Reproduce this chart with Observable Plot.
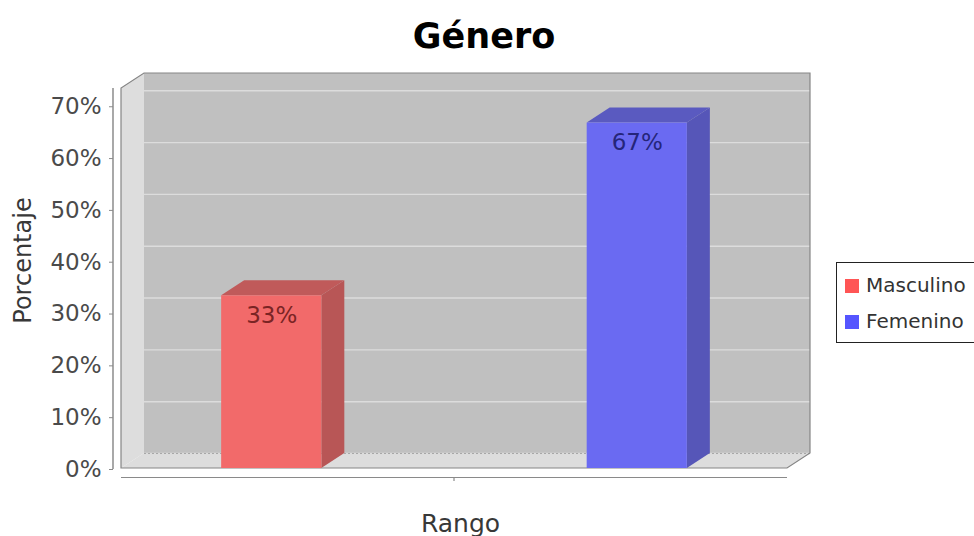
<!DOCTYPE html>
<html>
<head>
<meta charset="utf-8">
<script src="https://cdn.jsdelivr.net/npm/d3@7"></script>
<script src="https://cdn.jsdelivr.net/npm/@observablehq/plot@0.6"></script>
<style>
  html, body { margin: 0; padding: 0; background: #fff; overflow: hidden; }
  #wrap { position: relative; width: 974px; height: 536px; font-family: "DejaVu Sans", sans-serif; }
  #title { height: 60px; box-sizing: border-box; padding-top: 19px; padding-right: 6px; text-align: center;
           font-weight: bold; font-size: 35px; line-height: 35px; color: #000; }
  #legend { position: absolute; left: 836px; top: 262px; width: 150px; box-sizing: border-box;
            border: 1px solid #222; background: #fff; padding: 4px 0 3px 8px; }
  #legend .row { height: 36px; line-height: 36px; font-size: 20px; color: #333; white-space: nowrap; }
  #legend .sw { display: inline-block; width: 14px; height: 14px; margin-right: 7px; vertical-align: -1px; }
</style>
</head>
<body>
<div id="wrap">
  <div id="title"></div>
  <div id="chart"></div>
  <div id="legend"></div>
</div>
<script>
// ---- data ----
const chartTitle = "Género";
const xLabel = "Rango";
const yLabel = "Porcentaje";
const categories = ["Masculino", "Femenino"];
const percentages = [33.33, 66.67];
const yTicks = [0, 10, 20, 30, 40, 50, 60, 70];

// ---- styles ----
const frontColors = ["#f26a6a", "#6a6af2"];
const sideColors = ["#b85656", "#5656b8"];
const topColors = ["#c05a5a", "#5a5ac0"];
const labelColors = ["#7a2424", "#25257a"];
const legendColors = ["#ff5555", "#5555ff"];
const DX = 23, DY = -15; // 3D depth offset

const data = categories.map((c, i) => ({cat: c, val: percentages[i]}));

function bandwidthOf(x) {
  if (typeof x.bandwidth === "function") return x.bandwidth();
  if (typeof x.bandwidth === "number") return x.bandwidth;
  return (x(categories[1]) - x(categories[0])) * (1 - 0.726);
}

// walls of the 3D plot area
function walls(index, scales, values, dim) {
  const l = dim.marginLeft, t = dim.marginTop, r = dim.width - dim.marginRight, b = dim.height - dim.marginBottom;
  const g = d3.create("svg:g");
  g.append("rect").attr("x", l + DX).attr("y", t + DY).attr("width", r - l).attr("height", b - t).attr("fill", "#c0c0c0");
  g.append("path").attr("d", `M${l},${t}L${l+DX},${t+DY}L${l+DX},${b+DY}L${l},${b}Z`).attr("fill", "#dddddd");
  g.append("path").attr("d", `M${l},${b}L${l+DX},${b+DY}L${r+DX},${b+DY}L${r},${b}Z`).attr("fill", "#dddddd");
  return g.node();
}

function outline(index, scales, values, dim) {
  const l = dim.marginLeft, t = dim.marginTop, r = dim.width - dim.marginRight, b = dim.height - dim.marginBottom;
  const g = d3.create("svg:g").attr("fill", "none").attr("stroke", "#858585").attr("stroke-width", 1.2);
  g.append("path").attr("d", `M${l},${b}L${l},${t}L${l+DX},${t+DY}L${r+DX},${t+DY}L${r+DX},${b+DY}L${r},${b}Z`);
  // value axis line (offset left of the plot)
  g.append("line").attr("x1", l - 8).attr("x2", l - 8).attr("y1", t).attr("y2", b + 1)
    .attr("stroke", "#7a7a7a").attr("stroke-width", 1.3);
  // category axis centre tick
  const mx = (l + r) / 2;
  g.append("line").attr("x1", mx).attr("x2", mx).attr("y1", b + 9).attr("y2", b + 13).attr("stroke", "#8a8a8a");
  return g.node();
}

function barFaces(index, scales) {
  const x = scales.x, y = scales.y;
  const bw = bandwidthOf(x);
  const g = d3.create("svg:g");
  data.forEach((d, i) => {
    const x0 = x(d.cat), x1 = x0 + bw, y0 = y(0), y1 = y(d.val);
    g.append("path").attr("d", `M${x1},${y1}L${x1+DX},${y1+DY}L${x1+DX},${y0+DY}L${x1},${y0}Z`).attr("fill", sideColors[i]);
    g.append("path").attr("d", `M${x0},${y1}L${x0+DX},${y1+DY}L${x1+DX},${y1+DY}L${x1},${y1}Z`).attr("fill", topColors[i]);
  });
  return g.node();
}

const chart = Plot.plot({
  width: 974,
  height: 476,
  marginTop: 28,
  marginBottom: 68,
  marginLeft: 121,
  marginRight: 187,
  style: {fontFamily: "DejaVu Sans", background: "transparent", overflow: "visible"},
  x: {domain: categories, paddingInner: 0.726, paddingOuter: 0.274, round: false, axis: null},
  y: {domain: [0, 73.33], axis: null},
  color: {domain: categories, range: frontColors},
  marks: [
    walls,
    Plot.ruleY(yTicks, {dx: DX, dy: DY, stroke: "#dcdcdc", strokeWidth: 1.4}),
    Plot.ruleY([0], {dx: DX, dy: DY, stroke: "#a8a8a8", strokeWidth: 1, strokeDasharray: "2,2"}),
    outline,
    barFaces,
    Plot.barY(data, {x: "cat", y: "val", fill: "cat", inset: 0}),
    ...categories.map((c, i) => Plot.text(data.filter(d => d.cat === c), {
      x: "cat", y: "val", text: d => Math.round(d.val) + "%", dy: 20,
      fontSize: 23, fill: labelColors[i], textAnchor: "middle", lineAnchor: "middle"
    })),
    Plot.axisY(yTicks, {anchor: "left", tickFormat: d => d + "%", tickSize: 4, tickPadding: 8,
      dx: -8, dy: 1, fontSize: 23, color: "#4a4a4a", stroke: "#8a8a8a", label: null}),
    Plot.ruleY([0], {dy: 9, stroke: "#8a8a8a", strokeWidth: 1.2}),
    Plot.text([yLabel], {text: d => d, frameAnchor: "left", rotate: -90, dx: -98, dy: -18,
      textAnchor: "middle", lineAnchor: "middle", fontSize: 24, fill: "#383838"}),
    Plot.text([xLabel], {text: d => d, frameAnchor: "bottom", dx: 6, dy: 55,
      textAnchor: "middle", lineAnchor: "middle", fontSize: 25, fill: "#383838"})
  ]
});

document.getElementById("title").textContent = chartTitle;
document.getElementById("chart").appendChild(chart);
const legend = d3.select("#legend");
categories.forEach((c, i) => {
  const row = legend.append("div").attr("class", "row");
  row.append("span").attr("class", "sw").style("background", legendColors[i]);
  row.append("span").text(c);
});
</script>
</body>
</html>
